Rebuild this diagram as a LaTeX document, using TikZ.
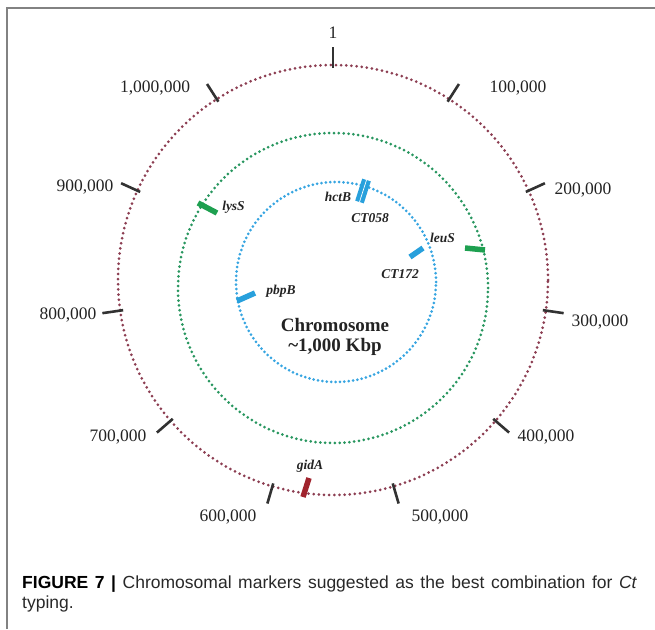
\documentclass[tikz,border=0pt]{standalone}
\usepackage{fontspec}
\setmainfont{Liberation Serif}
\newfontfamily\capfont{Liberation Sans}
\definecolor{outc}{RGB}{140,62,82}
\definecolor{greenc}{RGB}{40,150,95}
\definecolor{bluec}{RGB}{55,165,225}
\definecolor{greenm}{RGB}{30,160,80}
\definecolor{bluem}{RGB}{40,160,220}
\definecolor{redm}{RGB}{160,35,45}
\definecolor{tickc}{RGB}{50,50,50}
\definecolor{labc}{RGB}{35,35,35}
\definecolor{framec}{RGB}{130,130,130}
\definecolor{capc}{RGB}{40,40,40}
\begin{document}
\begin{tikzpicture}[x=1pt,y=-1pt,
  tickline/.style={line width=2.6pt, draw=tickc},
  ticklabel/.style={font=\fontsize{17.5}{20}\selectfont, text=labc, inner sep=0pt},
  genelabel/.style={font=\fontsize{13.5}{15}\selectfont\bfseries\itshape, inner sep=0pt, text=labc},
  dotring/.style={line width=3pt, line cap=round, dash pattern=on 0pt off #1},
  genebar/.style={line width=5.5pt},
  captext/.style={font=\capfont\fontsize{17.5}{20}\selectfont, text=capc, inner sep=0pt, anchor=base west}
]
\useasboundingbox (0,0) rectangle (655,629);
% frame
\draw[framec, line width=1.5pt] (7,629) -- (7,8) -- (655,8);
% rings
\coordinate (oc) at (333,280);
\coordinate (gc) at (333,288);
\coordinate (bc) at (336,282);
\draw[dotring=5.15pt, draw=outc] (oc) circle[radius=215pt];
\draw[dotring=4.85pt, draw=greenc] (gc) circle[radius=155pt];
\draw[dotring=4.4pt, draw=bluec] (bc) circle[radius=100pt];
% ticks
\foreach \k in {0,...,10}{
  \pgfmathsetmacro\a{\k*360/11}
  \coordinate (ti\k) at ({333+212*sin(\a)},{280-212*cos(\a)});
  \coordinate (to\k) at ({333+233*sin(\a)},{280-233*cos(\a)});
  \draw[tickline] (ti\k) -- (to\k);
}
% tick labels
\node[ticklabel] (l0) at (333,33) {1};
\node[ticklabel] (l1) at (518,88) {100,000};
\node[ticklabel] (l2) at (583,190) {200,000};
\node[ticklabel] (l3) at (600,322) {300,000};
\node[ticklabel] (l4) at (546,437) {400,000};
\node[ticklabel] (l5) at (440,517) {500,000};
\node[ticklabel] (l6) at (228,517) {600,000};
\node[ticklabel] (l7) at (118,437) {700,000};
\node[ticklabel] (l8) at (68,315) {800,000};
\node[ticklabel] (l9) at (85,187) {900,000};
\node[ticklabel] (l10) at (155,88) {1,000,000};
% gene markers
\coordinate (lysA) at (198,203); \coordinate (lysB) at (217,213);
\coordinate (leuA) at (465,248); \coordinate (leuB) at (485,250);
\coordinate (hctA) at (359.5,202); \coordinate (hctB) at (366.5,180);
\coordinate (ctoA) at (410,257); \coordinate (ctoB) at (423,248);
\coordinate (pbpA) at (237,301); \coordinate (pbpB) at (255,293);
\coordinate (gidA) at (303,497); \coordinate (gidB) at (309,478);
\draw[genebar, draw=greenm] (lysA) -- (lysB);
\draw[genebar, draw=greenm] (leuA) -- (leuB);
\draw[line width=9pt, draw=bluem] (hctA) -- (hctB);
\draw[line width=0.7pt, draw=white] (hctA) -- (hctB);
\draw[genebar, draw=bluem] (ctoA) -- (ctoB);
\draw[genebar, draw=bluem] (pbpA) -- (pbpB);
\draw[genebar, draw=redm] (gidA) -- (gidB);
% gene labels
\node[genelabel] (nlys) at (233.5,207) {lysS};
\node[genelabel] (nhct) at (338,197) {hctB};
\node[genelabel] (nct058) at (370,218) {CT058};
\node[genelabel] (nleu) at (442.5,238) {leuS};
\node[genelabel] (nct172) at (400,274) {CT172};
\node[genelabel] (npbp) at (281,291) {pbpB};
\node[genelabel] (ngid) at (310,466) {gidA};
% centre text
\node[font=\fontsize{19}{22}\selectfont\bfseries, text=labc, inner sep=0pt] (chr) at (335,325) {Chromosome};
\node[font=\fontsize{19}{22}\selectfont\bfseries, text=labc, inner sep=0pt] (kbp) at (335,347) {\textasciitilde1,000 Kbp};
% caption
\node[captext] (cap1) at (22,588) {\makebox[615pt][s]{\textbf{\color{black}FIGURE 7 |} Chromosomal markers suggested as the best combination for \textit{Ct}}};
\node[captext] (cap2) at (22,608) {typing.};
\end{tikzpicture}
\end{document}
